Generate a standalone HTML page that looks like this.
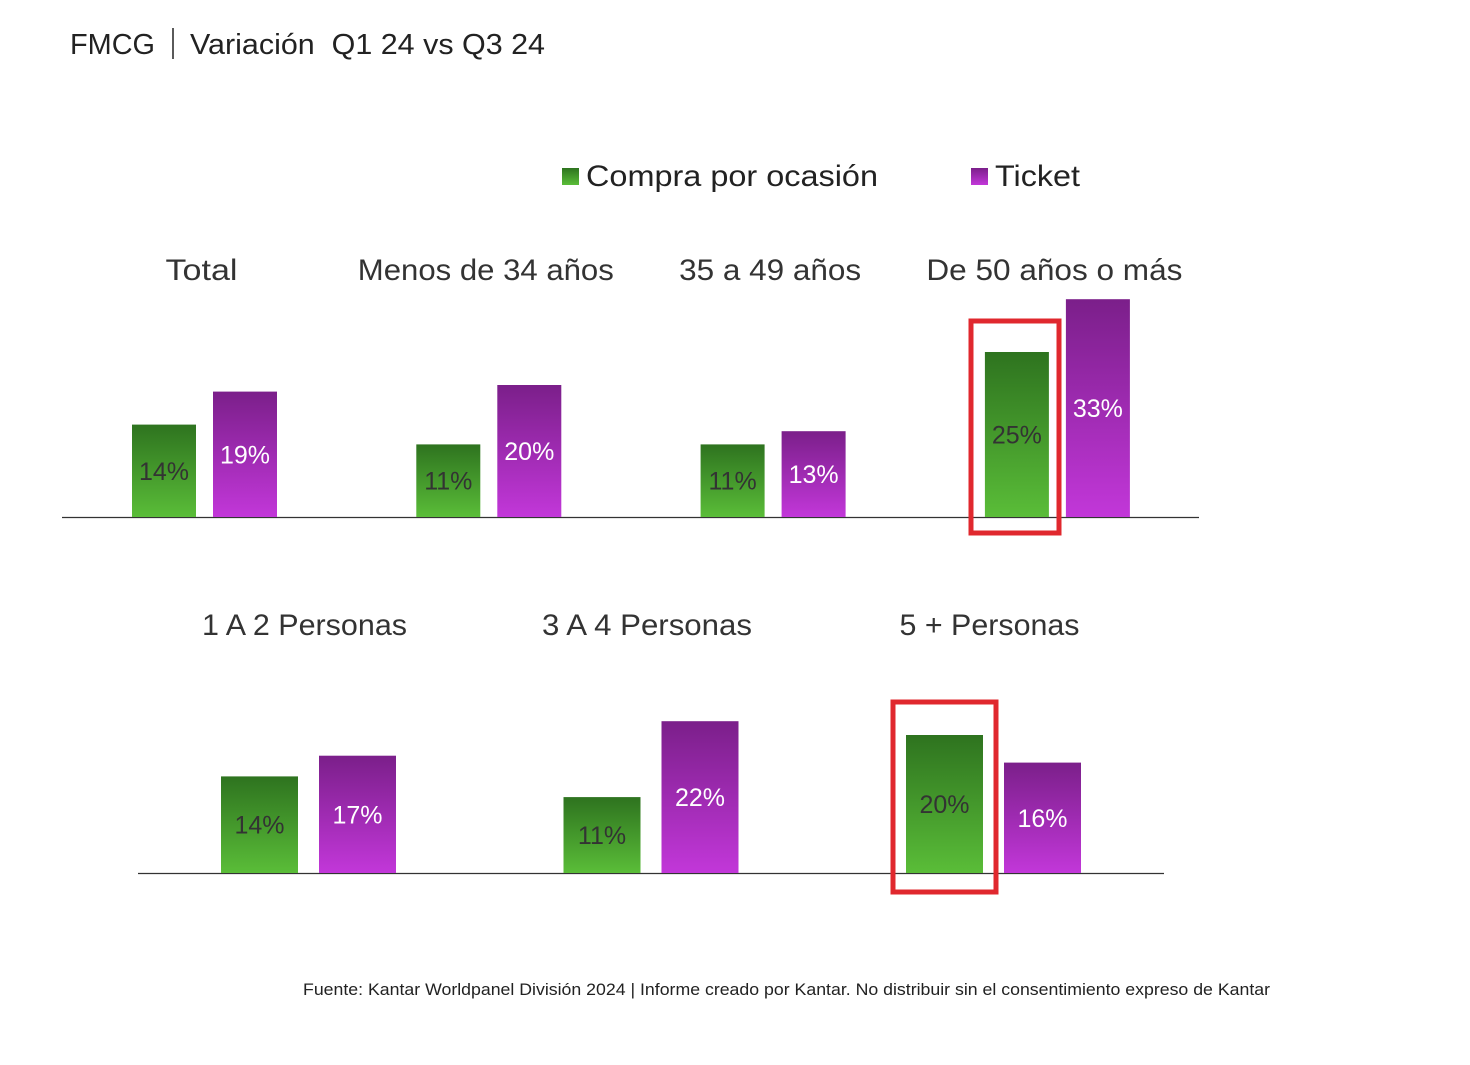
<!DOCTYPE html>
<html><head><meta charset="utf-8">
<style>
html,body{margin:0;padding:0;background:#fff;}
body{width:1470px;height:1060px;position:relative;overflow:hidden;font-family:"Liberation Sans",Arial,sans-serif;}
</style></head>
<body>
<svg id="chart" width="1470" height="1060" xmlns="http://www.w3.org/2000/svg">
<defs>
<linearGradient id="gGreen" x1="0" y1="0" x2="0" y2="1"><stop offset="0" stop-color="#2e731f"/><stop offset="1" stop-color="#5abd38"/></linearGradient>
<linearGradient id="gPurple" x1="0" y1="0" x2="0" y2="1"><stop offset="0" stop-color="#7b1f8a"/><stop offset="1" stop-color="#c237d9"/></linearGradient>
</defs>
<text x="70" y="54" font-size="29" fill="#222" textLength="85" lengthAdjust="spacingAndGlyphs">FMCG</text>
<line x1="173" y1="28" x2="173" y2="59" stroke="#222" stroke-width="1.5"/>
<text x="190" y="54" font-size="29" fill="#222" textLength="355" lengthAdjust="spacingAndGlyphs" xml:space="preserve">Variación  Q1 24 vs Q3 24</text>
<rect x="562" y="168" width="17" height="17" fill="url(#gGreen)"/>
<text x="586" y="186" font-size="30" fill="#222" textLength="292" lengthAdjust="spacingAndGlyphs">Compra por ocasión</text>
<rect x="971" y="168" width="17" height="17" fill="url(#gPurple)"/>
<text x="995" y="186" font-size="30" fill="#222" textLength="85" lengthAdjust="spacingAndGlyphs">Ticket</text>
<line x1="62" y1="517.5" x2="1199" y2="517.5" stroke="#333" stroke-width="1.2"/>
<line x1="138" y1="873.5" x2="1164" y2="873.5" stroke="#333" stroke-width="1.2"/>
<g id="marks"></g>
<rect x="971" y="321" width="88" height="212" fill="none" stroke="#e0282e" stroke-width="5"/>
<rect x="893" y="702" width="103" height="190" fill="none" stroke="#e0282e" stroke-width="5"/>
<text x="303" y="995" font-size="16.5" fill="#222" textLength="967" lengthAdjust="spacingAndGlyphs">Fuente: Kantar Worldpanel División 2024 | Informe creado por Kantar. No distribuir sin el consentimiento expreso de Kantar</text>
</svg>
<script>
const topCategories = ["Total","Menos de 34 años","35 a 49 años","De 50 años o más"];
const topCompra = [14,11,11,25];
const topTicket = [19,20,13,33];
const bottomCategories = ["1 A 2 Personas","3 A 4 Personas","5 + Personas"];
const bottomCompra = [14,11,20];
const bottomTicket = [17,22,16];
const topLabelWidths = [72,256,182,256];
const bottomLabelWidths = [205,210,180];

const NS="http://www.w3.org/2000/svg";
const g=document.getElementById("marks");
function mk(tag,attrs){const e=document.createElementNS(NS,tag);for(const k in attrs)e.setAttribute(k,attrs[k]);g.appendChild(e);return e;}

function drawPanel(cats,compra,ticket,widths,cfg){
  const y=v=>cfg.base-v*cfg.scale;
  cats.forEach((c,i)=>{
    const gx=cfg.x0+i*cfg.step;
    const lbl=mk("text",{x:gx+cfg.bw+cfg.gap/2+cfg.lblOff,y:cfg.labelY,"font-size":30,fill:"#333","text-anchor":"middle",textLength:widths[i],lengthAdjust:"spacingAndGlyphs"});
    lbl.textContent=c;
    
    
    [[compra[i],"url(#gGreen)","#333",gx,"bar-compra"],[ticket[i],"url(#gPurple)","#fff",gx+cfg.bw+cfg.gap,"bar-ticket"]].forEach(([v,fill,tc,x,name])=>{
      const top=y(v);
      const r=mk("rect",{x:x,y:top,width:cfg.bw,height:cfg.base-top,fill:fill});
      
      
      const t=mk("text",{x:x+cfg.bw/2,y:(top+cfg.base)/2+9,"font-size":25,fill:tc,"text-anchor":"middle"});
      t.textContent=v+"%";
      
      
    });
  });
}
drawPanel(topCategories,topCompra,topTicket,topLabelWidths,{x0:132,step:284.3,bw:64,gap:17,base:517,scale:6.6,labelY:280,lblOff:-3});
drawPanel(bottomCategories,bottomCompra,bottomTicket,bottomLabelWidths,{x0:221,step:342.5,bw:77,gap:21,base:873,scale:6.9,labelY:635,lblOff:-4});
</script>
</body></html>
